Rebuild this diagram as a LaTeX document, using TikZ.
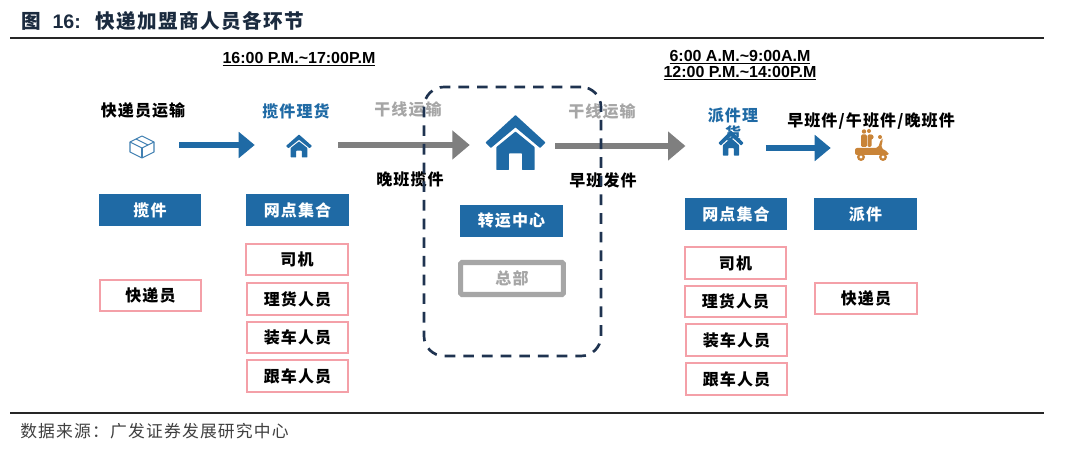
\documentclass[tikz,border=0pt]{standalone}
\usepackage{fontspec}
\setmainfont{Noto Sans CJK SC}
\newfontfamily\cjk[LetterSpace=7]{Noto Sans CJK SC}
\newfontfamily\lat{Liberation Sans}
\usetikzlibrary{arrows.meta}
\definecolor{mainblue}{HTML}{1F6AA5}
\definecolor{navy}{HTML}{1F3350}
\definecolor{titleink}{HTML}{1B2B3F}
\definecolor{pinkline}{HTML}{F4A0A8}
\definecolor{midgrey}{HTML}{7F7F7F}
\definecolor{softgrey}{HTML}{A6A6A6}
\definecolor{scoot}{HTML}{C98438}
\tikzset{
  bluebox/.style={fill=mainblue,text=white,minimum width=77pt,minimum height=24pt,inner sep=0pt,font=\cjk\fontsize{12}{14}\selectfont\bfseries},
  pinkbox/.style={draw=pinkline,line width=1.7pt,fill=white,minimum width=76pt,minimum height=23.5pt,inner sep=0pt,font=\cjk\fontsize{12}{14}\selectfont\bfseries},
  label/.style={inner sep=0pt,font=\cjk\fontsize{12}{14}\selectfont\bfseries},
  timelabel/.style={inner sep=0pt,font=\lat\fontsize{12}{14}\selectfont\bfseries},
  iconspot/.style={inner sep=0pt,minimum width=#1,minimum height=#1},
  bluearrow/.style={draw=mainblue,line width=3.8pt,-{Triangle[length=12pt,width=19pt]}},
  greyarrow/.style={draw=midgrey,line width=4.5pt,-{Triangle[length=13pt,width=21pt]}},
  house/.pic={
    \fill[mainblue,rounded corners=0.4pt] (-1,0.0) -- (0,-1) -- (1,0.0) -- (0.82,0.2) -- (0,-0.55) -- (-0.82,0.2) -- cycle;
    \fill[mainblue,rounded corners=0.4pt] (-0.64,0.17) -- (0,-0.4) -- (0.64,0.17) -- (0.64,1) -- (0.22,1) -- (0.22,0.4) -- (-0.22,0.4) -- (-0.22,1) -- (-0.64,1) -- cycle;
  },
}
\begin{document}
\begin{tikzpicture}[x=0.75pt,y=-0.75pt]
\useasboundingbox (0,0) rectangle (1066,452);
\fill[white] (0,0) rectangle (1066,452);

% header and footer
\node[anchor=west,inner sep=0pt,text=titleink,font=\bfseries\fontsize{14.7}{17}\selectfont] (title) at (21,21)
  {\cjk 图\ \ {\lat 16:}\ \ \hspace{2pt}快递加盟商人员各环节};
\coordinate (ruleTopL) at (10,38); \coordinate (ruleTopR) at (1044,38);
\coordinate (ruleBotL) at (10,413); \coordinate (ruleBotR) at (1044,413);
\draw[line width=0.8pt,black!85] (ruleTopL) -- (ruleTopR);
\draw[line width=0.8pt,black!85] (ruleBotL) -- (ruleBotR);
\node[anchor=west,inner sep=0pt,font=\cjk\fontsize{12.6}{15}\selectfont,text=black!75] (source) at (20,431) {数据来源^^^^ff1a广发证券发展研究中心};

% times
\node[timelabel] (t1) at (299,59) {\underline{16:00 P.M.\textasciitilde17:00P.M}};
\node[timelabel] (t2) at (740,57) {\underline{6:00 A.M.\textasciitilde9:00A.M}};
\node[timelabel] (t3) at (740,73) {\underline{12:00 P.M.\textasciitilde14:00P.M}};

% icon anchors
\node[iconspot=22pt] (cube) at (142,145) {};
\node[iconspot=19.5pt] (h1) at (299,145) {};
\node[iconspot=43.5pt] (hub) at (516,145) {};
\node[iconspot=20pt] (h2) at (731,146) {};
\node[iconspot=25.5pt] (sc) at (872,148) {};

% connectors
\draw[bluearrow,shorten <=16.7pt,shorten >=23.25pt] (cube.east) -- (h1.west);
\draw[greyarrow,shorten <=19.5pt,shorten >=12.75pt] (h1.east) -- (hub.west);
\draw[greyarrow,shorten <=7.5pt,shorten >=24pt] (hub.east |- h2.west) -- (h2.west);
\draw[bluearrow,shorten <=16pt,shorten >=18pt] (h2.east |- sc.west) -- (sc.west);

% cube icon
\begin{scope}[shift={(142,147)},draw=mainblue!85,line width=0.8pt,line join=round]
  \draw (0,-11) -- (12,-5) -- (12,5) -- (0,11) -- (-12,5) -- (-12,-5) -- cycle;
  \draw (-12,-5) -- (0,1) -- (12,-5);
  \draw (0,1) -- (0,11);
  \draw (-6,-8) -- (6,-2);
\end{scope}

% house icons
\begin{scope}[shift={(299,146)},x=9.75pt,y=-8.6pt] \pic {house}; \end{scope}
\begin{scope}[shift={(515.5,142.5)},x=22.5pt,y=-20.6pt] \pic {house}; \end{scope}
\begin{scope}[shift={(731,143)},x=9.4pt,y=-9.4pt] \pic {house}; \end{scope}

% scooter icon
\begin{scope}[shift={(872,146)},scoot]
  \fill (-1,-9) circle (2.6); \fill (8,-9) circle (2);
  \fill (-8,-14.5) circle (2.2); \fill (-3,-15) circle (2);
  \fill[rounded corners=1pt] (-11,-11.5) rectangle (-5,1);
  \fill[rounded corners=1pt] (-4.5,-11.5) rectangle (-0.5,1);
  \fill[rounded corners=1.5pt] (-17,2) -- (6,2) -- (9,-7) -- (11,-7) -- (9,2) -- (16,6) -- (17,9) -- (-17,9) -- cycle;
  \fill (-11,11) circle (4);  \fill[white] (-11,11) circle (1.6);
  \fill (11,11) circle (4);   \fill[white] (11,11) circle (1.6);
\end{scope}

% flow labels
\node[label] (l1) at (143,110) {快递员运输};
\node[label,text=mainblue] (l2) at (296,111) {揽件理货};
\node[label,text=softgrey] (l3) at (408,109) {干线运输};
\node[label] (l4) at (410,179) {晚班揽件};
\node[label,text=softgrey] (l5) at (602,111) {干线运输};
\node[label] (l6) at (603,180) {早班发件};
\node[label,text=mainblue] (l7) at (733,115) {派件理};
\node[label,text=mainblue] (l8) at (733,133) {货};
\node[label] (l9) at (871,121) {早班件/午班件/晚班件};

% blue boxes
\node[bluebox] (b1) at (150,210.5) {揽件};
\node[bluebox] (b2) at (297.5,210.5) {网点集合};
\node[bluebox] (b3) at (511.5,221) {转运中心};
\node[bluebox] (b4) at (736,214) {网点集合};
\node[bluebox] (b5) at (865.5,214) {派件};

% pink boxes
\node[pinkbox] (p1) at (150.5,295.5) {快递员};
\node[pinkbox] (p2) at (297,259.5) {司机};
\node[pinkbox] (p3) at (297.5,299) {理货人员};
\node[pinkbox] (p4) at (297.5,337.5) {装车人员};
\node[pinkbox] (p5) at (297.5,376) {跟车人员};
\node[pinkbox] (p6) at (735.5,263) {司机};
\node[pinkbox] (p7) at (735.5,301.5) {理货人员};
\node[pinkbox] (p8) at (736.5,340) {装车人员};
\node[pinkbox] (p9) at (736.5,379) {跟车人员};
\node[pinkbox] (p10) at (866,298.5) {快递员};

% head office
\node[draw=softgrey,line width=3.8pt,rounded corners=1pt,fill=white,text=softgrey,minimum width=77pt,minimum height=24pt,inner sep=0pt,font=\cjk\fontsize{12}{14}\selectfont\bfseries] (hq) at (512,278.5) {总部};

% dashed frame
\node[draw=navy,line width=2pt,dash pattern=on 8pt off 6pt,rounded corners=15pt,minimum width=132.75pt,minimum height=201.75pt,inner sep=0pt] (frame) at (512.5,221.5) {};
\end{tikzpicture}
\end{document}
